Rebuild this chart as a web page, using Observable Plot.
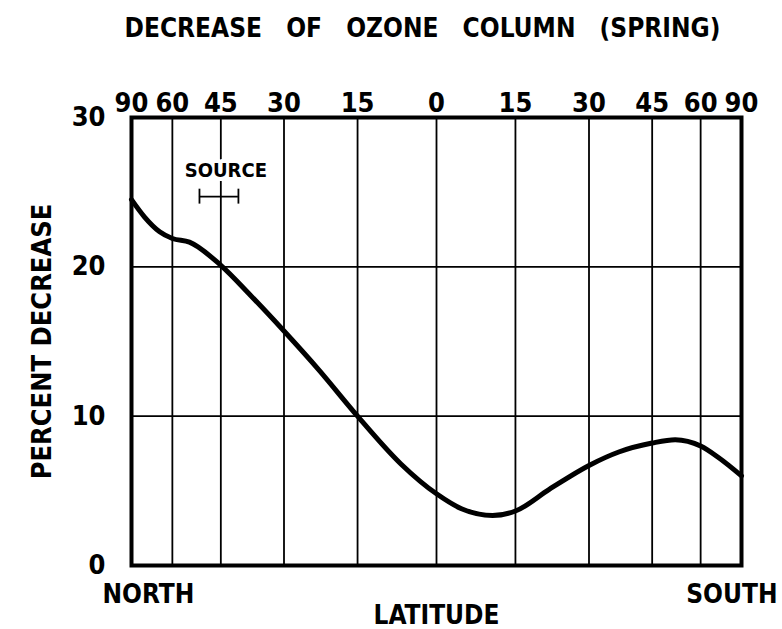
<!DOCTYPE html>
<html>
<head>
<meta charset="utf-8">
<script src="https://cdn.jsdelivr.net/npm/d3@7"></script>
<script src="https://cdn.jsdelivr.net/npm/@observablehq/plot@0.6"></script>
<style>
  html, body { margin: 0; padding: 0; background: #fff; }
  #wrap { width: 782px; height: 629px; position: relative; font-family: "DejaVu Sans Condensed", "DejaVu Sans", sans-serif; font-weight: bold; }
  #title { height: 62px; box-sizing: border-box; padding-top: 13px; padding-left: 63px; text-align: center; font-size: 26px; line-height: 30px; letter-spacing: 0px; word-spacing: 16px; white-space: pre; color: #000; }
  svg { display: block; }
</style>
</head>
<body>
<div id="wrap">
  <div id="title">DECREASE OF OZONE COLUMN (SPRING)</div>
  <div id="chart"></div>
</div>
<script>
// Latitude in degrees (north positive), percent decrease of ozone column
const latitude        = [90, 73.3, 65.2, 60, 54.1, 45, 37.6, 30, 22.7, 15, 6.7, 0, -4.7, -10.6, -15, -21.7, -30, -36.7, -45, -51.5, -60, -67.4, -90];
const percentDecrease = [24.5, 23.35, 22.35, 21.9, 21.65, 20.1, 18.1, 15.7, 13.1, 10.0, 6.8, 4.8, 3.8, 3.35, 3.65, 5.1, 6.7, 7.6, 8.2, 8.42, 8.0, 7.25, 6.0];

// Axis ticks
const tickLat    = [90, 60, 45, 30, 15, 0, -15, -30, -45, -60, -90];
const tickLabels = ["90", "60", "45", "30", "15", "0", "15", "30", "45", "60", "90"];
const yTicks     = [0, 10, 20, 30];
const yGrid      = [10, 20];

// Source marker (latitude range and level)
const sourceLat   = 45;
const sourceRange = [51, 40.5];
const sourceLevel = 24.7;

// End labels
const endLat    = [90, -90];
const endLabels = ["NORTH", "SOUTH"];

const s = d => Math.sin(d * Math.PI / 180);
const data = latitude.map((lat, i) => ({lat, pct: percentDecrease[i]}));
const labelMap = new Map(tickLat.map((l, i) => [s(l), tickLabels[i]]));

const font = "'DejaVu Sans Condensed', 'DejaVu Sans', sans-serif";

const chart = Plot.plot({
  width: 782,
  height: 567,
  marginTop: 55,
  marginBottom: 64,
  marginLeft: 131,
  marginRight: 41,
  x: {domain: [1, -1]},
  y: {domain: [0, 30]},
  style: {fontFamily: font, fontWeight: "bold", fontSize: "27px", color: "#000", background: "#fff", overflow: "visible"},
  marks: [
    Plot.ruleX(tickLat, {x: d => s(d), stroke: "#000", strokeWidth: 1.8}),
    Plot.ruleY(yGrid, {y: d => d, stroke: "#000", strokeWidth: 1.8}),
    Plot.axisX({anchor: "top", ticks: tickLat.map(s), tickFormat: d => labelMap.get(d), tickSize: 0, tickPadding: 6, label: null, fontSize: 27}),
    Plot.axisY({anchor: "left", ticks: yTicks, tickSize: 0, tickPadding: 26, label: "PERCENT DECREASE", labelAnchor: "center", labelArrow: "none", labelOffset: 100, fontSize: 27}),
    // Source bar
    Plot.text(["SOURCE"], {x: s(sourceLat), y: sourceLevel, text: d => d, dy: -26, dx: 5, fontSize: 20, stroke: "#fff", strokeWidth: 8, fill: "#000"}),
    Plot.ruleY([sourceLevel], {x1: s(sourceRange[0]), x2: s(sourceRange[1]), y: d => d, stroke: "#000", strokeWidth: 1.8}),
    Plot.ruleX(sourceRange, {x: d => s(d), y1: sourceLevel - 0.5, y2: sourceLevel + 0.5, stroke: "#000", strokeWidth: 1.8}),
    // Curve
    Plot.line(data, {x: d => s(d.lat), y: "pct", curve: "monotone-x", stroke: "#000", strokeWidth: 5}),
    Plot.frame({stroke: "#000", strokeWidth: 4}),
    // NORTH / SOUTH
    Plot.text(endLat.slice(0, 1), {x: d => s(d), y: 0, text: () => endLabels[0], textAnchor: "start", dx: -29, dy: 29, fontSize: 26}),
    Plot.text(endLat.slice(1), {x: d => s(d), y: 0, text: () => endLabels[1], textAnchor: "end", dx: 36, dy: 29, fontSize: 26}),
    Plot.text(["LATITUDE"], {frameAnchor: "bottom", text: d => d, dy: 58, fontSize: 26})
  ]
});
document.getElementById("chart").appendChild(chart);
</script>
</body>
</html>
